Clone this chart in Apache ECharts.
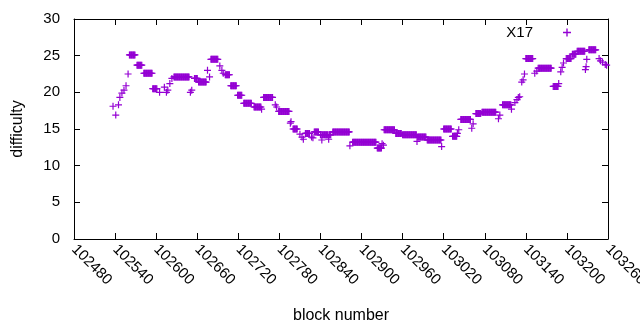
<!DOCTYPE html>
<html>
<head>
<meta charset="utf-8">
<script src="https://cdn.jsdelivr.net/npm/echarts@6/dist/echarts.min.js"></script>
<style>
html,body{margin:0;padding:0;background:#fff}
#main{width:640px;height:330px}
</style>
</head>
<body>
<div id="main"></div>
<script>
// difficulty, as runs of blocks with the same value
var runFirst = [102537,102541,102545,102547,102550,102553,102556,102559,102561,102572,102582,102595,102605,102612,102615,102617,102620,102623,102626,102650,102652,102656,102662,102675,102678,102680,102693,102696,102698,102701,102709,102719,102728,102743,102754,102757,102774,102776,102779,102796,102797,102800,102810,102813,102815,102818,102827,102829,102831,102840,102842,102843,102852,102853,102858,102883,102887,102923,102930,102932,102933,102950,102960,102981,102982,102996,103017,103020,103033,103040,103042,103045,103061,103063,103067,103076,103100,103102,103106,103119,103124,103127,103129,103131,103134,103136,103138,103140,103153,103156,103158,103180,103188,103191,103193,103195,103199,103208,103215,103227,103228,103229,103232,103247,103249,103252,103256,103258];
var runLast  = [102537,102541,102545,102547,102550,102553,102556,102559,102569,102579,102594,102601,102605,102612,102615,102617,102620,102623,102648,102650,102652,102660,102673,102675,102678,102690,102693,102696,102698,102707,102717,102725,102739,102753,102754,102770,102774,102776,102794,102796,102797,102806,102810,102813,102815,102824,102827,102829,102837,102841,102842,102851,102852,102855,102882,102883,102921,102929,102930,102932,102948,102958,102980,102981,102994,103016,103017,103031,103039,103040,103042,103059,103061,103063,103074,103096,103100,103102,103118,103119,103124,103127,103129,103131,103134,103136,103138,103150,103153,103156,103177,103187,103188,103191,103193,103195,103206,103213,103226,103227,103228,103229,103242,103247,103249,103252,103256,103258];
var runDifficulty = [18.1,16.9,18.3,19.3,19.9,20.3,20.9,22.5,25.1,23.7,22.6,20.5,20.0,20.7,20.0,20.3,21.2,21.9,22.1,20.0,20.3,21.9,21.4,23.0,22.1,24.5,23.6,23.0,22.6,22.4,20.9,19.6,18.5,18.0,17.7,19.3,18.3,18.0,17.4,15.8,16.0,15.0,14.3,13.9,13.6,14.4,13.9,13.8,14.6,14.2,13.5,14.2,13.6,14.2,14.6,12.7,13.2,12.4,13.0,12.8,14.9,14.4,14.2,13.3,13.9,13.5,12.6,15.0,14.0,14.4,14.9,16.3,15.1,15.7,17.1,17.3,16.4,16.9,18.3,17.7,18.6,19.0,19.3,19.4,21.4,21.7,22.5,24.6,22.6,22.9,23.3,20.8,21.2,22.8,23.4,24.0,24.6,25.2,25.6,23.1,23.5,24.5,25.8,24.6,24.3,24.1,23.8,23.7];

var points = [];
for (var i = 0; i < runFirst.length; i++) {
    for (var b = runFirst[i]; b <= runLast[i]; b++) {
        points.push([b, runDifficulty[i]]);
    }
}

var plus = 'path://M8.3,0 H11.7 V8.3 H20 V11.7 H11.7 V20 H8.3 V11.7 H0 V8.3 H8.3 Z';
var font = 'Liberation Sans, Arial, sans-serif';
var black = {color: '#000', width: 1};

var myChart = echarts.init(document.getElementById('main'), null, {renderer: 'canvas'});
var option = {
    animation: false,
    textStyle: {fontFamily: font},
    grid: {left: 74, right: 32, top: 19, bottom: 91, containLabel: false, outerBoundsMode: 'none'},
    legend: {
        right: 64,
        top: 20,
        align: 'right',
        itemWidth: 58,
        itemHeight: 8,
        icon: plus,
        textStyle: {fontSize: 15, color: '#000', fontFamily: font},
        data: ['X17']
    },
    xAxis: [{
        type: 'value',
        position: 'bottom',
        min: 102480,
        max: 103260,
        interval: 60,
        name: 'block number',
        nameLocation: 'middle',
        nameGap: 69,
        nameTextStyle: {fontSize: 16, color: '#000', fontFamily: font},
        axisLine: {show: true, onZero: false, lineStyle: black},
        axisTick: {show: true, inside: true, length: 6, lineStyle: black},
        axisLabel: {
            rotate: -45,
            margin: 8,
            fontSize: 15,
            color: '#000',
            fontFamily: font,
            hideOverlap: false,
            formatter: function (v) { return String(v); }
        },
        splitLine: {show: false}
    }, {
        type: 'value',
        position: 'top',
        min: 102480,
        max: 103260,
        interval: 60,
        axisLine: {show: true, onZero: false, lineStyle: black},
        axisTick: {show: true, inside: true, length: 6, lineStyle: black},
        axisLabel: {show: false},
        splitLine: {show: false}
    }],
    yAxis: [{
        type: 'value',
        position: 'left',
        min: 0,
        max: 30,
        interval: 5,
        name: 'difficulty',
        nameLocation: 'middle',
        nameGap: 48,
        nameRotate: 90,
        nameTextStyle: {fontSize: 16, color: '#000', fontFamily: font},
        axisLine: {show: true, onZero: false, lineStyle: black},
        axisTick: {show: true, inside: true, length: 6, lineStyle: black},
        axisLabel: {margin: 14, fontSize: 15, color: '#000', fontFamily: font},
        splitLine: {show: false}
    }, {
        type: 'value',
        position: 'right',
        min: 0,
        max: 30,
        interval: 5,
        axisLine: {show: true, onZero: false, lineStyle: black},
        axisTick: {show: true, inside: true, length: 6, lineStyle: black},
        axisLabel: {show: false},
        splitLine: {show: false}
    }],
    series: [{
        name: 'X17',
        type: 'scatter',
        xAxisIndex: 0,
        yAxisIndex: 0,
        symbol: plus,
        symbolSize: 7,
        itemStyle: {color: '#9400d3', opacity: 1},
        data: points
    }]
};
myChart.setOption(option);
</script>
</body>
</html>
